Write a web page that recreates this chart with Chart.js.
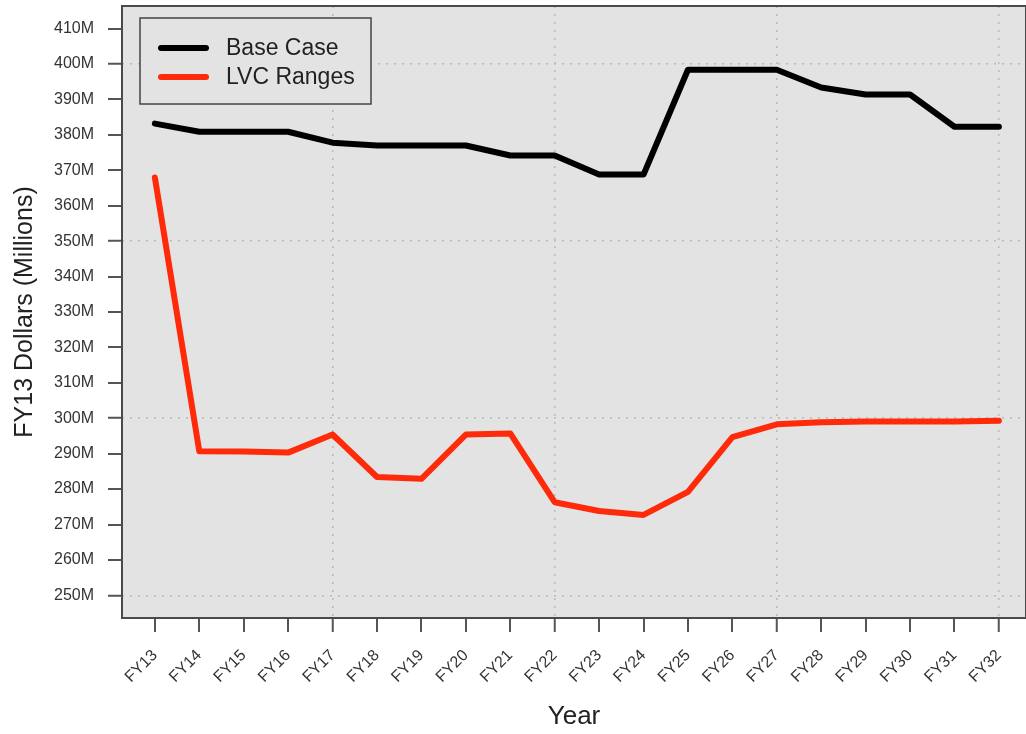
<!DOCTYPE html>
<html>
<head>
<meta charset="utf-8">
<script src="https://cdn.jsdelivr.net/npm/chart.js@4.4.1/dist/chart.umd.min.js"></script>
<style>
  html, body { margin: 0; padding: 0; background: #ffffff; }
  #wrap { width: 1026px; height: 734px; }
</style>
</head>
<body>
<div id="wrap"><canvas id="myChart"></canvas></div>
<script>
const years = ['FY13', 'FY14', 'FY15', 'FY16', 'FY17', 'FY18', 'FY19', 'FY20', 'FY21', 'FY22',
               'FY23', 'FY24', 'FY25', 'FY26', 'FY27', 'FY28', 'FY29', 'FY30', 'FY31', 'FY32'];
const baseCase = [383.2, 380.9, 380.9, 380.9, 377.8, 377.0, 377.0, 377.0, 374.2, 374.2,
                  368.8, 368.8, 398.4, 398.4, 398.4, 393.4, 391.4, 391.4, 382.3, 382.3];
const lvcRanges = [368.0, 290.7, 290.6, 290.3, 295.4, 283.4, 282.9, 295.4, 295.7, 276.3,
                   273.8, 272.7, 279.2, 294.7, 298.3, 298.9, 299.1, 299.1, 299.1, 299.3];
const yTicks = [250, 260, 270, 280, 290, 300, 310, 320, 330, 340, 350, 360, 370, 380, 390, 400, 410];

const fontFamily = '"Liberation Sans", Arial, sans-serif';

function toPoints(values) {
    return values.map((v, i) => ({ x: i, y: v }));
}

const plotBackground = {
    id: 'plotBackground',
    beforeDraw(chart) {
        const { ctx, chartArea: a } = chart;
        ctx.save();
        ctx.fillStyle = '#e3e3e3';
        ctx.fillRect(a.left, a.top, a.right - a.left, a.bottom - a.top);
        ctx.restore();
    },
    afterDatasetsDraw(chart) {
        const { ctx, chartArea: a } = chart;
        ctx.save();
        // frame
        ctx.strokeStyle = '#4a4a4a';
        ctx.lineWidth = 2;
        ctx.strokeRect(a.left, a.top, a.right - a.left, a.bottom - a.top);

        // legend box
        ctx.fillStyle = '#e3e3e3';
        ctx.fillRect(140, 18, 231, 86);
        ctx.lineWidth = 1.5;
        ctx.strokeStyle = '#444444';
        ctx.strokeRect(140, 18, 231, 86);
        ctx.font = '23px ' + fontFamily;
        ctx.textBaseline = 'middle';
        ctx.textAlign = 'left';
        chart.data.datasets.forEach((ds, i) => {
            const y = 48 + i * 29;
            ctx.strokeStyle = ds.borderColor;
            ctx.lineWidth = 6;
            ctx.lineCap = 'round';
            ctx.beginPath();
            ctx.moveTo(161, y);
            ctx.lineTo(206, y);
            ctx.stroke();
            ctx.fillStyle = '#222222';
            ctx.fillText(ds.label, 226, y + 1);
        });
        ctx.restore();
    }
};

function renderLineChart() {
    const ctx = document.getElementById('myChart');

    new Chart(ctx, {
        type: 'line',
        data: {
            datasets: [{
                label: 'Base Case',
                data: toPoints(baseCase),
                borderColor: '#000000',
                borderWidth: 6,
                pointRadius: 0,
                tension: 0,
                borderCapStyle: 'round',
                borderJoinStyle: 'round'
            }, {
                label: 'LVC Ranges',
                data: toPoints(lvcRanges),
                borderColor: '#ff2a0a',
                borderWidth: 6,
                pointRadius: 0,
                tension: 0,
                borderCapStyle: 'round',
                borderJoinStyle: 'round'
            }]
        },
        options: {
            responsive: true,
            maintainAspectRatio: false,
            animation: false,
            layout: {
                padding: { top: 6, right: 0, bottom: 0, left: 0 }
            },
            plugins: {
                legend: { display: false },
                tooltip: { enabled: false }
            },
            scales: {
                x: {
                    type: 'linear',
                    min: -0.74,
                    max: 19.61,
                    afterBuildTicks(scale) {
                        scale.ticks = years.map((y, i) => ({ value: i }));
                    },
                    afterFit(scale) {
                        scale.height = 116;
                        scale.paddingLeft = 0;
                        scale.paddingRight = 0;
                    },
                    ticks: {
                        autoSkip: false,
                        minRotation: 45,
                        maxRotation: 45,
                        padding: 14,
                        color: '#333333',
                        font: { family: fontFamily, size: 16 },
                        callback: (value) => years[value]
                    },
                    grid: {
                        color: '#bababa',
                        lineWidth: (c) => (c.tick && c.tick.value % 5 === 4) ? 1.5 : 0,
                        tickColor: '#555555',
                        tickWidth: 2,
                        tickLength: 14
                    },
                    border: { display: false, dash: [2, 6] },
                    title: {
                        display: true,
                        text: 'Year',
                        color: '#222222',
                        font: { family: fontFamily, size: 26 },
                        padding: { top: 0, bottom: 2 }
                    }
                },
                y: {
                    min: 243.6,
                    max: 416.4,
                    afterBuildTicks(scale) {
                        scale.ticks = yTicks.map(v => ({ value: v }));
                    },
                    afterFit(scale) {
                        scale.width = 122;
                        scale.paddingTop = 0;
                        scale.paddingBottom = 0;
                    },
                    ticks: {
                        padding: 14,
                        color: '#333333',
                        font: { family: fontFamily, size: 16 },
                        callback: (value) => value + 'M'
                    },
                    grid: {
                        color: '#bababa',
                        lineWidth: (c) => (c.tick && c.tick.value % 50 === 0) ? 1.5 : 0,
                        tickColor: '#555555',
                        tickWidth: 2,
                        tickLength: 14
                    },
                    border: { display: false, dash: [2, 6] },
                    title: {
                        display: true,
                        text: 'FY13 Dollars (Millions)',
                        color: '#222222',
                        font: { family: fontFamily, size: 25 },
                        padding: { top: 10, bottom: 0 }
                    }
                }
            }
        },
        plugins: [plotBackground]
    });
}

renderLineChart();
</script>
</body>
</html>
